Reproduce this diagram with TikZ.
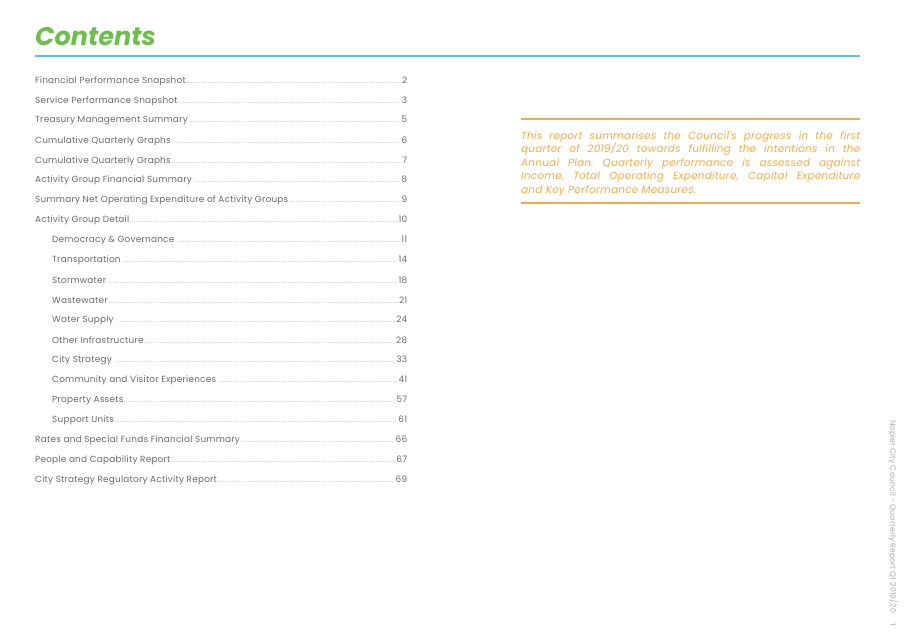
\documentclass[tikz,border=0pt]{standalone}
\usepackage{fontspec}
\setmainfont{Poppins}
\newfontfamily\widefont[LetterSpace=2.5]{Poppins}
\definecolor{titlegreen}{HTML}{6DBF4B}
\definecolor{ruleblue}{HTML}{52C3F1}
\definecolor{notebrown}{HTML}{F9A944}
\definecolor{tocgray}{HTML}{6A6A6A}
\definecolor{footgray}{HTML}{A8A8A8}
\newcommand{\tocdots}{\leaders\hbox to 2.1pt{\hss\scalebox{0.6}{.}\hss}\hfill}
\newcommand{\tocline}[3]{\hbox to #1{#2\tocdots#3}}
\frenchspacing

\begin{document}
\begin{tikzpicture}[x=1pt,y=-1pt,
  tocentry/.style={anchor=west,inner sep=0pt,text=tocgray,font=\widefont\fontsize{8.9}{10}\selectfont},
  footer/.style={inner sep=0pt,text=footgray,rotate=-90,font=\widefont\fontsize{7.6}{8}\selectfont}]
  \useasboundingbox (0,0) rectangle (906,635);
  % heading
  \node[anchor=base west,inner sep=0pt,text=titlegreen,
    font=\fontsize{25.5}{30}\selectfont\bfseries\itshape] (title) at (35,45) {Contents};
  \coordinate (bl) at (35,56);
  \coordinate (br) at (860,56);
  \draw[ruleblue,line width=2.2pt] (bl) -- (br);
  % table of contents
  \foreach \entry/\page/\ind [count=\i] in {
      Financial Performance Snapshot/2/0,
      Service Performance Snapshot/3/0,
      Treasury Management Summary/5/0,
      Cumulative Quarterly Graphs/6/0,
      Cumulative Quarterly Graphs/7/0,
      Activity Group Financial Summary /8/0,
      Summary Net Operating Expenditure of Activity Groups/9/0,
      Activity Group Detail/10/0,
      Democracy \& Governance /11/17,
      Transportation /14/17,
      Stormwater /18/17,
      Wastewater/21/17,
      Water Supply /24/17,
      Other Infrastructure/28/17,
      City Strategy /33/17,
      Community and Visitor Experiences/41/17,
      Property Assets/57/17,
      Support Units/61/17,
      Rates and Special Funds Financial Summary/66/0,
      People and Capability Report/67/0,
      City Strategy Regulatory Activity Report/69/0}
  {
    \pgfmathsetmacro{\ty}{81+(\i-1)*19.95}
    \pgfmathsetmacro{\tw}{372-\ind}
    \node[tocentry] (toc\i) at (35+\ind,\ty) {\tocline{\tw pt}{\entry}{\page}};
  }
  % summary note
  \coordinate (nl) at (521,119);
  \coordinate (nr) at (860,119);
  \draw[notebrown,line width=2.4pt] (nl) -- (nr);
  \node[anchor=north west,inner sep=0pt,text width=339pt,align=justify,text=notebrown,
    font=\widefont\fontsize{10.4}{13.5}\selectfont\itshape] (note) at (521,131)
    {This report summarises the Council's progress in the first\linebreak
     quarter of 2019/20 towards fulfilling the intentions in the\linebreak
     Annual Plan. Quarterly performance is assessed against\linebreak
     Income, Total Operating Expenditure, Capital Expenditure\linebreak
     and Key Performance Measures.};
  \coordinate (ml) at (521,203);
  \coordinate (mr) at (860,203);
  \draw[notebrown,line width=2.4pt] (ml) -- (mr);
  % footer
  \node[footer,anchor=west] (foot) at (893,420) {Napier City Council - Quarterly Report Q1 2019/20};
  \node[footer] (pageno) at (893,625) {1};
\end{tikzpicture}
\end{document}
